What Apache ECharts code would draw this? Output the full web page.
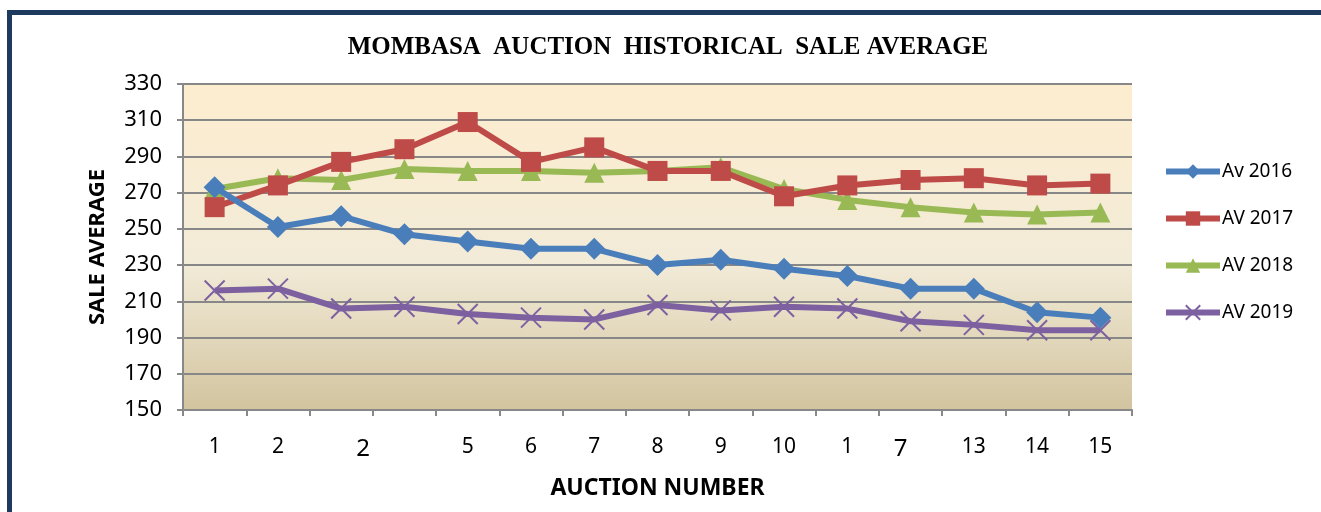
<!DOCTYPE html>
<html>
<head>
<meta charset="utf-8">
<script src="https://cdn.jsdelivr.net/npm/echarts@6/dist/echarts.min.js"></script>
<style>
html,body{margin:0;padding:0;background:#fff;}
#c{width:1321px;height:512px;}
</style>
</head>
<body>
<div id="c"></div>
<script>
var categories = ["1","2","2","","5","6","7","8","9","10","1","7","13","14","15"];
var av2016 = [273, 251, 257, 247, 243, 239, 239, 230, 233, 228, 224, 217, 217, 204, 201];
var av2017 = [262, 274, 287, 294, 309, 287, 295, 282, 282, 268, 274, 277, 278, 274, 275];
var av2018 = [272, 278, 277, 283, 282, 282, 281, 282, 284, 272, 266, 262, 259, 258, 259];
var av2019 = [216, 217, 206, 207, 203, 201, 200, 208, 205, 207, 206, 199, 197, 194, 194];
var seriesNames = ["Av 2016","AV 2017","AV 2018","AV 2019"];
var yTicks = {min:150, max:330, interval:20};

var chart = echarts.init(document.getElementById('c'), null, {renderer:'canvas'});
var colors = ['#4A7EBB','#BE4B48','#98B954','#7D60A0'];
var symbols = ['diamond','rect','triangle','path://M0,0L10,10M10,0L0,10'];
var sizes = [22,20,20,20];
var datas = [av2016, av2017, av2018, av2019];

var series = seriesNames.map(function(n,i){
  return {
    name:n, type:'line', data:datas[i],
    symbol:symbols[i], symbolSize:sizes[i],
    showAllSymbol:true,
    lineStyle:{color:colors[i], width:6},
    itemStyle:{color: i===3 ? 'rgba(0,0,0,0)' : colors[i], borderColor: colors[i], borderWidth: i===3 ? 2 : 0},
    emphasis:{disabled:true},
    animation:false,
    z: 10 - i
  };
});

chart.setOption({
  animation:false,
  color:colors,
  grid:{left:183, right:189, top:84, bottom:102, show:true, borderWidth:0,
    backgroundColor:{type:'linear', x:0, y:0, x2:0, y2:1, colorStops:[
      {offset:0, color:'#FDEDCF'},{offset:0.55, color:'#F2EBD8'},{offset:1, color:'#D2C49F'}]}},
  graphic:[
    {type:'rect', shape:{x:7, y:10, width:1314, height:5}, style:{fill:'#1E3A5E'}},
    {type:'rect', shape:{x:7, y:10, width:5, height:502}, style:{fill:'#1E3A5E'}},
    {type:'text', x:668, y:47, scaleX:0.96, originX:0, originY:0,
      style:{text:'MOMBASA  AUCTION  HISTORICAL  SALE AVERAGE', font:'bold 26px "Liberation Serif"', fill:'#000', align:'center', verticalAlign:'middle'}}
  ],
  legend:{
    orient:'vertical', left:1158, top:157, itemGap:28, itemWidth:54, itemHeight:18,
    lineStyle:{width:6},
    textStyle:{fontFamily:'Noto Sans', fontSize:19, color:'#000', padding:[0,0,0,-3]},
    data:seriesNames
  },
  xAxis:{
    type:'category', data:categories, boundaryGap:true,
    name:'AUCTION NUMBER', nameLocation:'middle', nameGap:67,
    nameTextStyle:{fontFamily:'Noto Sans', fontWeight:'bold', fontSize:23, color:'#000'},
    axisLine:{show:true, lineStyle:{color:'#888', width:2}},
    axisTick:{show:true, length:6, lineStyle:{color:'#888', width:2}},
    axisLabel:{interval:0, margin:27, fontFamily:'Noto Sans', fontSize:21, color:'#000',
      formatter:function(v, idx){
        if(idx===2) return '{a|'+v+'}';
        if(idx===11) return '{b|'+v+'}';
        return v;
      },
      rich:{
        a:{fontFamily:'Noto Sans', fontSize:24, color:'#000', padding:[0,0,0,44]},
        b:{fontFamily:'Noto Sans', fontSize:24, color:'#000', padding:[0,20,10,0]}
      }
    },
    splitLine:{show:false}
  },
  yAxis:{
    type:'value', min:yTicks.min, max:yTicks.max, interval:yTicks.interval,
    name:'SALE AVERAGE', nameLocation:'middle', nameGap:74, nameRotate:90,
    nameTextStyle:{fontFamily:'Noto Sans', fontWeight:'bold', fontSize:22, color:'#000'},
    axisLine:{show:true, lineStyle:{color:'#888', width:2}},
    axisTick:{show:true, length:6, lineStyle:{color:'#888', width:2}},
    axisLabel:{margin:21, fontFamily:'Noto Sans', fontSize:22, color:'#000'},
    splitLine:{show:true, lineStyle:{color:'#878787', width:2}}
  },
  series:series
});
</script>
</body>
</html>
